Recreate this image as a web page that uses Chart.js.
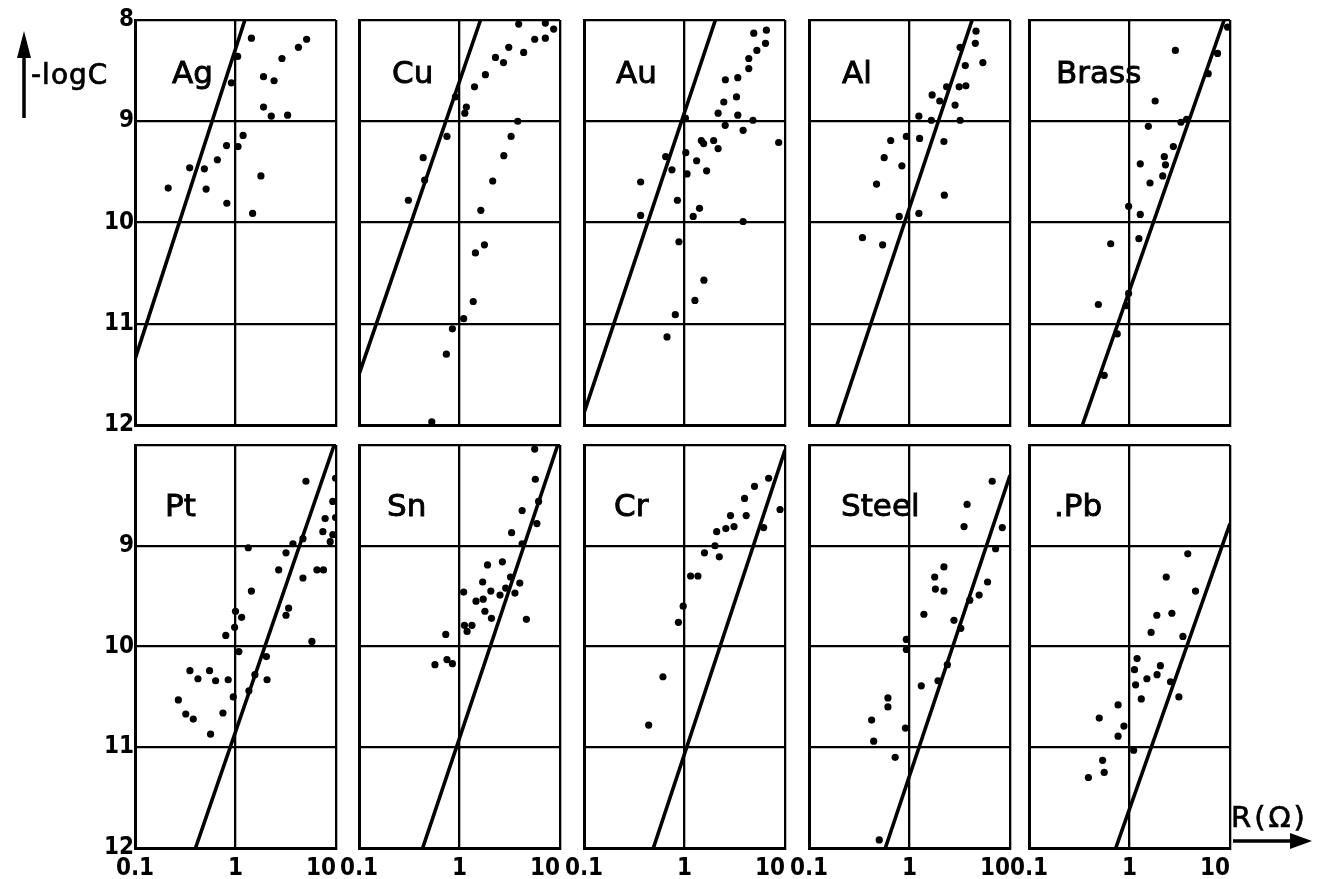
<!DOCTYPE html>
<html>
<head>
<meta charset="utf-8">
<script src="https://cdn.jsdelivr.net/npm/chart.js@4.4.1/dist/chart.umd.min.js"></script>
<style>
html,body{margin:0;padding:0;background:#fff;width:1330px;height:879px;overflow:hidden;}
#wrap{position:relative;width:1330px;height:879px;}
#wrap canvas{position:absolute;}
#overlay{position:absolute;left:0;top:0;pointer-events:none;}
</style>
</head>
<body>
<div id="wrap">
<svg id="overlay" width="1330" height="879" xmlns="http://www.w3.org/2000/svg">
  <line x1="24" y1="118" x2="24" y2="50" stroke="#000" stroke-width="3.5"/>
  <polygon points="24,31 17,58 31,58" fill="#000"/>
  <text x="31" y="84" font-family="DejaVu Sans" font-size="28" letter-spacing="1" fill="#000" stroke="#000" stroke-width="0.7">-logC</text>
  <text x="1231" y="827" font-family="DejaVu Sans" font-size="29" letter-spacing="3" fill="#000" stroke="#000" stroke-width="0.7">R(Ω)</text>
  <line x1="1233" y1="841" x2="1294" y2="841" stroke="#000" stroke-width="3.5"/>
  <polygon points="1312,841 1290,833 1290,849" fill="#000"/>
</svg>
</div>
<script>
// ---------------- DATA ----------------
const panelNames = ['Ag', 'Cu', 'Au', 'Al', 'Brass', 'Pt', 'Sn', 'Cr', 'Steel', '.Pb'];
const xTickValues = [0.1, 1, 10];
const xTickLabels = ['0.1', '1', '10'];
const yTickValues = [8, 9, 10, 11, 12];
const yTickLabelsTop = ['8', '9', '10', '11', '12'];
const yTickLabelsBottom = ['', '9', '10', '11', '12'];

// fitted lines: [R, -logC] end points
const agLine = [[0.1, 11.35], [1.24, 8]];
const cuLine = [[0.1, 11.5], [1.62, 8]];
const auLine = [[0.1, 11.88], [2.03, 8]];
const alLine = [[0.19, 12], [4.2, 8]];
const brassLine = [[0.34, 12], [8.75, 8]];
const ptLine = [[0.4, 12], [9.6, 8]];
const snLine = [[0.43, 12], [9.5, 8]];
const crLine = [[0.49, 12], [10, 8.05]];
const steelLine = [[0.575, 12], [10, 8.3]];
const pbLine = [[0.73, 12], [10, 8.78]];

// measured points: [R, -logC]
const agPts = [[1.44,8.18],[5.1,8.19],[4.23,8.27],[2.9,8.38],[1.9,8.56],[2.42,8.60],[1.05,8.36],[0.91,8.62],[1.9,8.86],[2.27,8.95],[3.3,8.94],[1.19,9.14],[1.06,9.25],[0.815,9.24],[0.66,9.38],[0.35,9.46],[0.49,9.47],[0.214,9.66],[0.51,9.67],[0.82,9.81],[1.79,9.54],[1.48,9.91]];
const cuPts = [[3.88,8.04],[7.15,8.03],[8.65,8.09],[5.6,8.19],[7.15,8.18],[3.09,8.27],[4.35,8.32],[2.28,8.37],[2.74,8.42],[1.81,8.54],[1.41,8.66],[1.17,8.86],[1.13,8.92],[0.91,8.76],[3.8,9.0],[3.26,9.15],[2.76,9.34],[2.14,9.59],[1.63,9.88],[1.77,10.22],[1.44,10.3],[1.37,10.78],[1.1,10.95],[0.85,11.05],[0.74,11.3],[0.53,11.97],[0.435,9.36],[0.45,9.58],[0.31,9.78],[0.75,9.15]];
const auPts = [[4.89,8.13],[6.53,8.10],[6.4,8.23],[5.25,8.30],[4.36,8.38],[4.36,8.48],[2.55,8.59],[3.39,8.57],[2.46,8.81],[3.29,8.76],[2.16,8.92],[3.39,8.94],[4.8,8.99],[2.54,9.04],[3.83,9.09],[8.65,9.21],[1.02,8.97],[1.47,9.19],[1.55,9.22],[1.95,9.19],[2.16,9.27],[0.65,9.35],[1.03,9.31],[1.32,9.39],[0.75,9.48],[1.06,9.52],[1.66,9.49],[0.366,9.60],[0.85,9.78],[1.41,9.86],[1.22,9.94],[0.366,9.93],[3.83,9.99],[0.88,10.19],[1.56,10.57],[1.27,10.77],[0.81,10.91],[0.67,11.13]];
const alPts = [[4.59,8.11],[4.52,8.23],[5.37,8.42],[3.19,8.27],[3.59,8.45],[2.34,8.66],[3.12,8.66],[3.64,8.65],[1.68,8.74],[2.0,8.80],[2.84,8.84],[1.24,8.95],[1.65,8.99],[3.19,8.99],[0.93,9.15],[1.26,9.17],[2.2,9.20],[0.65,9.19],[0.56,9.36],[0.84,9.44],[0.47,9.62],[2.22,9.73],[1.24,9.91],[0.79,9.94],[0.34,10.15],[0.54,10.22]];
const brassPts = [[9.45,8.07],[7.52,8.33],[6.07,8.53],[2.86,8.30],[1.8,8.80],[1.54,9.05],[3.25,9.01],[3.7,8.98],[2.73,9.25],[2.22,9.35],[2.28,9.43],[2.14,9.54],[1.28,9.42],[1.6,9.61],[0.98,9.84],[1.28,9.92],[1.24,10.16],[0.65,10.21],[0.98,10.70],[0.93,10.82],[0.49,10.81],[0.755,11.10],[0.56,11.51]];
const ptPts = [[5.02,8.36],[9.9,8.33],[9.3,8.56],[7.8,8.73],[9.9,8.72],[7.4,8.86],[9.3,8.89],[8.75,8.96],[4.69,8.93],[3.73,8.98],[1.34,9.02],[3.18,9.07],[2.69,9.24],[6.46,9.24],[7.5,9.24],[4.69,9.32],[1.44,9.45],[3.38,9.62],[3.18,9.69],[1.0,9.65],[1.15,9.71],[0.98,9.81],[0.8,9.89],[5.76,9.95],[1.08,10.05],[2.03,10.10],[1.56,10.28],[2.06,10.33],[0.352,10.24],[0.423,10.32],[0.552,10.24],[0.634,10.34],[0.846,10.33],[1.36,10.44],[0.95,10.50],[0.27,10.53],[0.32,10.67],[0.38,10.72],[0.75,10.66],[0.565,10.87]];
const snPts = [[5.6,8.04],[5.68,8.34],[6.12,8.56],[4.2,8.65],[5.89,8.78],[3.3,8.87],[4.2,8.98],[1.9,9.19],[2.67,9.16],[3.22,9.31],[3.98,9.37],[1.7,9.36],[1.1,9.46],[2.05,9.45],[2.88,9.42],[3.56,9.47],[2.53,9.49],[1.46,9.55],[1.72,9.53],[1.79,9.65],[2.08,9.72],[4.63,9.73],[1.12,9.79],[1.33,9.79],[1.19,9.85],[0.73,9.88],[0.57,10.18],[0.75,10.13],[0.85,10.17]];
const crPts = [[6.87,8.33],[4.97,8.41],[3.96,8.53],[8.93,8.64],[4.11,8.70],[2.87,8.70],[3.11,8.81],[2.58,8.83],[2.09,8.86],[6.13,8.82],[2.01,9.0],[1.58,9.07],[2.22,9.11],[1.15,9.30],[1.36,9.30],[0.97,9.60],[0.87,9.76],[0.61,10.30],[0.44,10.78]];
const steelPts = [[6.65,8.36],[3.74,8.59],[3.49,8.81],[8.38,8.82],[7.19,9.03],[2.2,9.21],[1.78,9.31],[1.81,9.43],[2.2,9.45],[5.98,9.36],[4.93,9.49],[3.98,9.54],[1.39,9.68],[2.77,9.74],[3.24,9.82],[0.93,9.93],[0.93,10.03],[2.38,10.18],[1.92,10.34],[1.31,10.39],[0.61,10.51],[0.61,10.60],[0.42,10.73],[0.91,10.81],[0.44,10.94],[0.72,11.10],[0.5,11.92]];
const pbPts = [[3.8,9.08],[2.32,9.31],[4.54,9.45],[1.87,9.69],[2.64,9.67],[1.64,9.86],[3.4,9.90],[1.19,10.12],[1.12,10.23],[2.03,10.19],[1.88,10.28],[1.49,10.32],[1.15,10.38],[2.56,10.35],[1.31,10.52],[3.1,10.50],[0.77,10.58],[0.5,10.71],[0.88,10.79],[0.77,10.89],[1.1,11.03],[0.54,11.13],[0.56,11.25],[0.39,11.30]];

const panelPts = [agPts, cuPts, auPts, alPts, brassPts, ptPts, snPts, crPts, steelPts, pbPts];
const panelLines = [agLine, cuLine, auLine, alLine, brassLine, ptLine, snLine, crLine, steelLine, pbLine];

// ---------------- LAYOUT ----------------
const colLeft = [135, 359, 584, 809, 1029];
const rowTop = [20, 445];
const frameW = 201;
const frameH = [405, 403];
const nameDx = [37, 33, 32, 33, 27, 30, 28, 30, 32, 25];
const nameDy = [63, 71];
const ML = 50, MT = 16, MR = 16, MB = 40;
const tickFont = {family: "'Liberation Sans Narrow', 'DejaVu Sans Condensed', sans-serif", size: 24, weight: 'bold'};

Chart.defaults.color = '#000';

const namePlugin = {
  id: 'panelName',
  afterDatasetsDraw(chart, args, opts) {
    const {ctx, chartArea} = chart;
    ctx.save();
    ctx.font = "31px 'DejaVu Sans', sans-serif";
    ctx.fillStyle = '#000';
    ctx.strokeStyle = '#000';
    ctx.lineWidth = 0.9;
    ctx.textBaseline = 'alphabetic';
    ctx.textAlign = 'left';
    const x = chartArea.left + opts.dx, y = chartArea.top + opts.dy;
    ctx.fillText(opts.text, x, y);
    ctx.strokeText(opts.text, x, y);
    ctx.restore();
  }
};

// the right-aligned "10" label lives on a second bottom axis sharing the first one's box
const shareBoxPlugin = {
  id: 'shareBox',
  afterLayout(chart) {
    const a = chart.scales.x, b = chart.scales.x2;
    if (a && b) { b.top = a.top; b.bottom = a.bottom; b.height = a.height; }
  }
};

const toXY = arr => arr.map(p => ({x: p[0], y: p[1]}));
const wrap = document.getElementById('wrap');

for (let i = 0; i < 10; i++) {
  const row = Math.floor(i / 5), col = i % 5;
  const w = frameW + ML + MR, h = frameH[row] + MT + MB;
  const c = document.createElement('canvas');
  c.width = w; c.height = h;
  c.style.left = (colLeft[col] - ML) + 'px';
  c.style.top = (rowTop[row] - MT) + 'px';
  c.style.width = w + 'px'; c.style.height = h + 'px';
  wrap.insertBefore(c, document.getElementById('overlay'));
  const yLabels = row === 0 ? yTickLabelsTop : yTickLabelsBottom;
  new Chart(c, {
    type: 'scatter',
    data: {
      datasets: [
        {type: 'line', data: toXY(panelLines[i]), borderColor: '#000', borderWidth: 3.6,
         pointRadius: 0, fill: false, tension: 0, showLine: true},
        {type: 'scatter', data: toXY(panelPts[i]), pointRadius: 3.6,
         pointBackgroundColor: '#000', pointBorderWidth: 0, showLine: false}
      ]
    },
    options: {
      responsive: false, animation: false, devicePixelRatio: 1,
      layout: {padding: {left: 0, top: MT, right: MR, bottom: 0}},
      plugins: {
        legend: {display: false}, tooltip: {enabled: false},
        panelName: {text: panelNames[i], dx: nameDx[i], dy: nameDy[row]}
      },
      scales: {
        x: {
          type: 'logarithmic', min: 0.1, max: 10, position: 'bottom',
          afterBuildTicks: s => { s.ticks = xTickValues.map(v => ({value: v})); },
          afterFit: s => { s.height = MB; s.paddingLeft = 0; s.paddingRight = 0; },
          ticks: {display: row === 1, autoSkip: false, maxRotation: 0, minRotation: 0, padding: 6,
                  font: tickFont, color: '#000',
                  callback: (v, idx) => idx < xTickValues.length - 1 ? xTickLabels[idx] : ''},
          grid: {color: '#000', lineWidth: 2.3, drawTicks: false},
          border: {display: true, color: '#000', width: 3}
        },
        x2: {
          type: 'logarithmic', min: 0.1, max: 10, position: 'bottom',
          afterBuildTicks: s => { s.ticks = [{value: xTickValues[xTickValues.length - 1]}]; },
          afterFit: s => { s.height = 0; s.paddingLeft = 0; s.paddingRight = 0; },
          ticks: {display: row === 1, autoSkip: false, maxRotation: 0, minRotation: 0, padding: 6,
                  align: 'end', font: tickFont, color: '#000',
                  callback: () => xTickLabels[xTickLabels.length - 1]},
          grid: {display: false, drawTicks: false},
          border: {display: false}
        },
        y: {
          type: 'linear', min: 8, max: 12, reverse: true, position: 'left',
          afterBuildTicks: s => { s.ticks = yTickValues.map(v => ({value: v})); },
          afterFit: s => { s.width = ML; s.paddingTop = 0; s.paddingBottom = 0; },
          ticks: {display: col === 0, autoSkip: false, padding: 1, font: tickFont, color: '#000',
                  callback: (v, idx) => yLabels[idx]},
          grid: {color: '#000', lineWidth: 2.3, drawTicks: false},
          border: {display: true, color: '#000', width: 3}
        }
      }
    },
    plugins: [namePlugin, shareBoxPlugin]
  });
}
</script>
</body>
</html>
